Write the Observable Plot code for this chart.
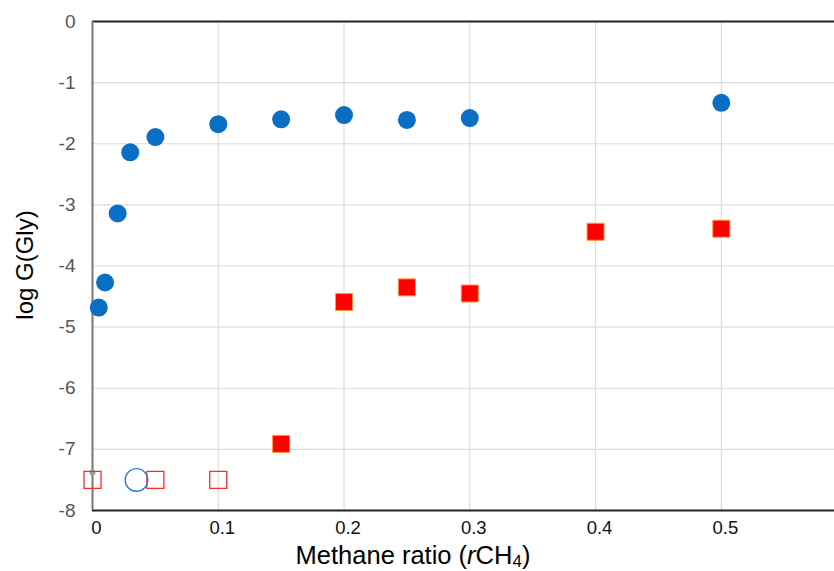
<!DOCTYPE html>
<html>
<head>
<meta charset="utf-8">
<script src="https://cdn.jsdelivr.net/npm/d3@7"></script>
<script src="https://cdn.jsdelivr.net/npm/@observablehq/plot@0.6"></script>
<style>
  html, body { margin: 0; padding: 0; background: #fff; }
  #chart svg { display: block; }
</style>
</head>
<body>
<div id="chart"></div>
<script>
// Detected glycine (filled blue circles)
const blueX = [0.005, 0.01, 0.02, 0.03, 0.05, 0.1, 0.15, 0.2, 0.25, 0.3, 0.5];
const blueY = [-4.68, -4.27, -3.14, -2.14, -1.89, -1.68, -1.60, -1.53, -1.61, -1.58, -1.33];
// Detected (filled red squares)
const redX = [0.15, 0.2, 0.25, 0.3, 0.4, 0.5];
const redY = [-6.91, -4.59, -4.35, -4.45, -3.44, -3.39];
// Not detected (open red squares)
const openRedX = [0, 0.05, 0.1];
const openRedY = [-7.5, -7.5, -7.5];
// Not detected (open blue circle)
const openBlueX = [0.035];
const openBlueY = [-7.5];
// small grey marker on the y axis
const greyX = [0];
const greyY = [-7.38];

const xTicks = [0, 0.1, 0.2, 0.3, 0.4, 0.5];
const yTicks = [0, -1, -2, -3, -4, -5, -6, -7, -8];

const zip = (xs, ys) => xs.map((x, i) => ({x, y: ys[i]}));
const blue = zip(blueX, blueY);
const red = zip(redX, redY);
const openRed = zip(openRedX, openRedY);
const openBlue = zip(openBlueX, openBlueY);
const grey = zip(greyX, greyY);

const FONT = "'Liberation Sans', Arial, Helvetica, sans-serif";
const W = 834, H = 571;
const plot = Plot.plot({
  width: W,
  height: H,
  marginLeft: 92,
  marginRight: 0,
  marginTop: 21,
  marginBottom: 61,
  style: {fontFamily: FONT, background: "#fff"},
  x: {domain: [0, 0.59], ticks: xTicks, label: null},
  y: {domain: [-8, 0], ticks: yTicks, label: null},
  marks: [
    Plot.gridX(xTicks.filter(d => d > 0), {stroke: "#dcdcdc", strokeOpacity: 1, strokeWidth: 1.2}),
    Plot.gridY(yTicks.filter(d => d > -8 && d < 0), {stroke: "#dcdcdc", strokeOpacity: 1, strokeWidth: 1.2}),
    Plot.axisX(xTicks, {tickSize: 0, tickPadding: 10, fontSize: 18.5, fill: "#111", dx: 4, tickFormat: d => String(d)}),
    Plot.axisY(yTicks, {tickSize: 0, tickPadding: 17, fontSize: 19, fill: "#555", tickFormat: d => String(d)}),
    Plot.ruleY([0], {stroke: "#222", strokeWidth: 2}),
    Plot.ruleY([-8], {stroke: "#222", strokeWidth: 2}),
    Plot.ruleX([0], {stroke: "#777", strokeWidth: 2}),
    Plot.dot(grey, {x: "x", y: "y", r: 3, fill: "#999", stroke: "none"}),
    Plot.dot(openRed, {x: "x", y: "y", symbol: "square", r: 9.6, fill: "none", stroke: "#ff2a2a", strokeWidth: 1.3}),
    Plot.dot(openBlue, {x: "x", y: "y", r: 11.3, fill: "none", stroke: "#2a7fd0", strokeWidth: 1.4}),
    Plot.dot(red, {x: "x", y: "y", symbol: "square", r: 9.6, fill: "#ff0000", stroke: "#ff9640", strokeWidth: 1}),
    Plot.dot(blue, {x: "x", y: "y", r: 9, fill: "#0a6fc4", stroke: "none"})
  ]
});
document.getElementById("chart").appendChild(plot);

// Axis titles with italic r and subscript 4
const svg = d3.select(plot);
const xt = svg.append("text")
  .attr("x", 413).attr("y", 564)
  .attr("text-anchor", "middle")
  .attr("font-family", FONT)
  .attr("font-size", 25.5).attr("fill", "#000");
xt.append("tspan").text("Methane ratio (");
xt.append("tspan").attr("font-style", "italic").text("r");
xt.append("tspan").text("CH");
xt.append("tspan").attr("font-size", 17).attr("dy", 3).text("4");
xt.append("tspan").attr("dy", -3).text(")");

svg.append("text")
  .attr("transform", "translate(33,265) rotate(-90)")
  .attr("text-anchor", "middle")
  .attr("font-family", FONT)
  .attr("font-size", 24).attr("fill", "#000")
  .text("log G(Gly)");
</script>
</body>
</html>
